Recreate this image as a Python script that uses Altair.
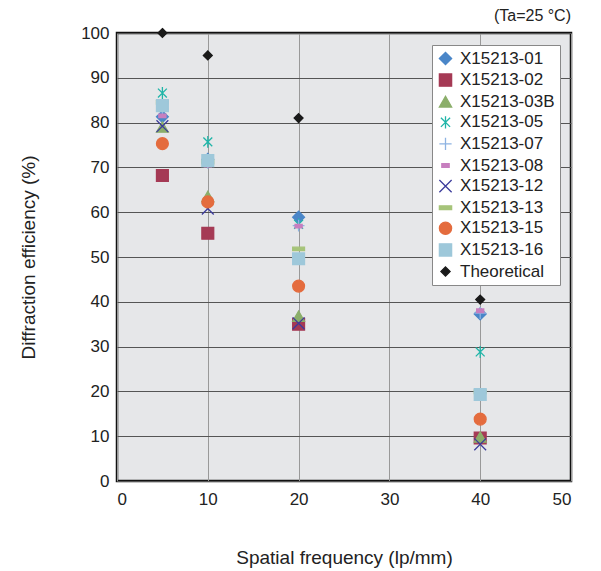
import altair as alt
import pandas as pd

freq = [5, 10, 20, 40]
series_names = ["X15213-01", "X15213-02", "X15213-03B", "X15213-05", "X15213-07",
                "X15213-08", "X15213-12", "X15213-13", "X15213-15", "X15213-16",
                "Theoretical"]
v01 = [81.3, 71.8, 58.9, 37.3]
v02 = [68.2, 55.3, 35.0, 9.6]
v03b = [79.0, 63.5, 36.8, 9.8]
v05 = [86.6, 75.7, 57.3, 28.8]
v07 = [83.0, 71.0, 57.0, 37.5]
v08 = [81.5, 70.5, 56.9, 38.0]
v12 = [79.2, 60.8, 35.2, 8.2]
v13 = [84.5, 71.2, 51.8, 19.9]
v15 = [75.3, 62.3, 43.5, 13.8]
v16 = [83.8, 71.5, 49.6, 19.3]
vth = [100, 95, 81, 40.5]

values = [v01, v02, v03b, v05, v07, v08, v12, v13, v15, v16, vth]

colors = ["#4a86c8", "#a53a55", "#8bae6a", "#1fb5a8", "#8db3e2",
          "#c77fbf", "#3c3c9c", "#a6c47a", "#e46c3e", "#9ec8da", "#1a1a1a"]

ASTERISK = "M-0.75,-0.75L0.75,0.75M-0.75,0.75L0.75,-0.75M0,-1L0,1"
PLUS = "M-1,0L1,0M0,-1L0,1"
XMARK = "M-1,-1L1,1M-1,1L1,-1"
SMALLDASH = "M-0.6,-0.3L0.6,-0.3L0.6,0.3L-0.6,0.3Z"
DASH = "M-1,-0.3L1,-0.3L1,0.3L-1,0.3Z"
SMALLDIAMOND = "M0,-0.75L0.75,0L0,0.75L-0.75,0Z"
shapes = ["diamond", "square", "triangle-up", ASTERISK, PLUS, SMALLDASH,
          XMARK, DASH, "circle", "square", SMALLDIAMOND]

rows = []
for name, vals in zip(series_names, values):
    for f, v in zip(freq, vals):
        rows.append({"series": name, "freq": f, "eff": v})
df = pd.DataFrame(rows)

cscale = alt.Scale(domain=series_names, range=colors)
sscale = alt.Scale(domain=series_names, range=shapes)

FONT = "Liberation Sans"

chart = alt.Chart(df).mark_point(filled=True, size=140, strokeWidth=1.3, opacity=1).encode(
    x=alt.X("freq:Q", scale=alt.Scale(domain=[0, 50]),
            axis=alt.Axis(title="Spatial frequency (lp/mm)", values=[0, 10, 20, 30, 40, 50],
                          ticks=False, domain=False, gridColor="#999999", gridWidth=1,
                          labelPadding=10, titlePadding=41)),
    y=alt.Y("eff:Q", scale=alt.Scale(domain=[0, 100]),
            axis=alt.Axis(title="Diffraction efficiency (%)", values=list(range(0, 101, 10)),
                          ticks=False, domain=False, gridColor="#555555", gridWidth=1,
                          labelPadding=8, titlePadding=42)),
    fill=alt.Fill("series:N", scale=cscale, sort=series_names,
                  legend=alt.Legend(title=None, orient="none", legendX=315, legendY=12,
                                    fillColor="white", strokeColor="#888888",
                                    padding=5, labelFontSize=17, labelFont=FONT,
                                    labelColor="#222222", symbolSize=150,
                                    rowPadding=2.6, symbolStrokeWidth=1.3,
                                    labelOffset=6)),
    stroke=alt.Stroke("series:N", scale=cscale, sort=series_names),
    shape=alt.Shape("series:N", scale=sscale, sort=series_names),
    order=alt.Order("order:Q"),
).transform_calculate(
    order="indexof(" + str(series_names) + ", datum.series)"
).properties(
    width=454, height=448,
    title=alt.Title("(Ta=25 °C)", anchor="end", fontSize=16, fontWeight="normal",
                    font=FONT, color="#222222", offset=0),
    padding={"left": 11, "top": 0, "right": 5, "bottom": 5},
).configure_view(
    fill="#e6e7e9", stroke="#111111", strokeWidth=2.5
).configure_axis(
    labelFont=FONT, labelFontSize=17, labelColor="#222222",
    titleFont=FONT, titleFontSize=19, titleFontWeight="normal", titleColor="#222222",
)

chart.save("out.html", embed_options={"renderer": "svg", "actions": False})
